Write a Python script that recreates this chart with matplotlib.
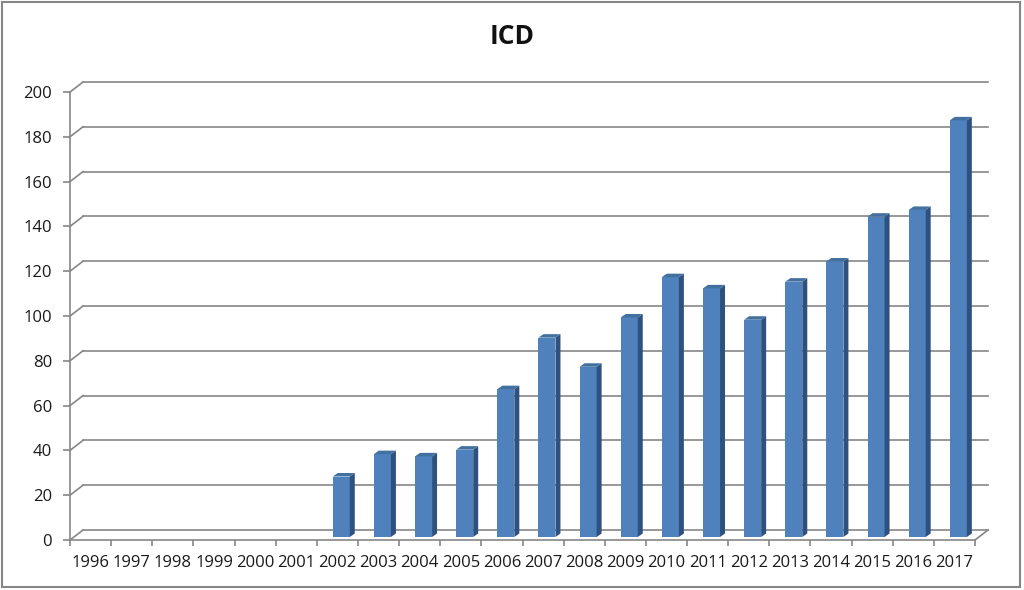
import matplotlib
matplotlib.use("Agg")
import matplotlib.pyplot as plt
from matplotlib.patches import Polygon, Rectangle

plt.rcParams["font.family"] = ["Open Sans", "DejaVu Sans"]

# chart data
years = [str(y) for y in range(1996, 2018)]
counts = [0, 0, 0, 0, 0, 0, 27, 37, 36, 39, 66, 89, 76, 98,
          116, 111, 97, 114, 123, 143, 146, 186]
y_ticks = [0, 20, 40, 60, 80, 100, 120, 140, 160, 180, 200]

GRID = "#868686"
FRONT = "#4F81BD"
SIDE = "#2E5180"
TOP = "#42709F"

W, H = 1024, 590
fig = plt.figure(figsize=(W / 100, H / 100), dpi=100)
# front plane of the 3D box: x 70..975 px, y 92..540 px
ax = fig.add_axes([70 / W, 50 / H, 905 / W, 448 / H])
ax.set_xlim(-0.5, len(years) - 0.5)
ax.set_ylim(0, 200)

# pixel -> data unit helpers
ux = len(years) / 905
uy = 200 / 448

# back wall offset (depth)
wx, wy = 13 * ux, 10 * uy
x_left, x_right = -0.5, len(years) - 0.5
for v in y_ticks:
    ax.plot([x_left + wx, x_right + wx], [v + wy, v + wy], color=GRID,
            lw=1.2, clip_on=False, zorder=1)
    ax.plot([x_left, x_left + wx], [v, v + wy], color=GRID,
            lw=1.2, clip_on=False, zorder=1)
ax.plot([x_right, x_right + wx], [0, wy], color=GRID, lw=1.2,
        clip_on=False, zorder=1)

# 3D-looking bars
bw = 17 * ux
fx, fy = 3.9 * ux, 3 * uy
sx, sy = 5 * ux, 3.5 * uy
for i, v in enumerate(counts):
    if v == 0:
        continue
    x0 = i - bw / 2 + fx
    x1 = x0 + bw
    y0 = fy
    y1 = v + fy
    ax.add_patch(Rectangle((x0, y0), bw, v, facecolor=FRONT,
                           edgecolor="none", zorder=3, clip_on=False))
    ax.add_patch(Polygon([(x1, y0), (x1 + sx, y0 + sy), (x1 + sx, y1 + sy), (x1, y1)],
                         facecolor=SIDE, edgecolor="none", zorder=3, clip_on=False))
    ax.add_patch(Polygon([(x0, y1), (x1, y1), (x1 + sx, y1 + sy), (x0 + sx, y1 + sy)],
                         facecolor=TOP, edgecolor="none", zorder=3, clip_on=False))

# axes styling
for side in ["top", "right"]:
    ax.spines[side].set_visible(False)
for side in ["left", "bottom"]:
    ax.spines[side].set_color(GRID)
    ax.spines[side].set_linewidth(1.2)

ax.set_yticks(y_ticks)
ax.tick_params(axis="y", length=5, width=1.2, color=GRID, pad=8,
               labelsize=12, labelcolor="#1a1a1a")

ax.set_xticks([k - 0.5 for k in range(len(years) + 1)])
ax.set_xticklabels([])
ax.set_xticks(range(len(years)), minor=True)
ax.set_xticklabels(years, minor=True)
ax.tick_params(axis="x", which="major", length=4, width=1.2, color=GRID)
ax.tick_params(axis="x", which="minor", length=0, pad=11,
               labelsize=12, labelcolor="#1a1a1a")

fig.text(0.5, 1 - 36 / H, "ICD", ha="center", va="center",
         fontsize=19, fontweight="bold", color="#111111")

# outer chart border
fig.add_artist(Rectangle((2 / W, 3 / H), 1018 / W, 585 / H, transform=fig.transFigure,
                         fill=False, edgecolor=GRID, lw=1.5))

fig.savefig("out.png", dpi=100)
